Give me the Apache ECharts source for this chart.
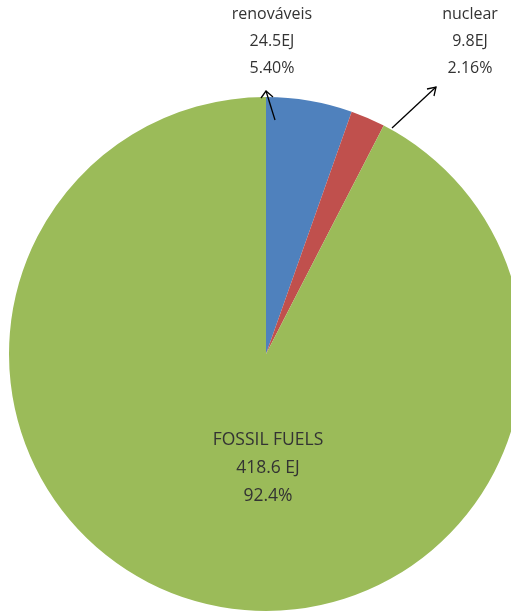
<!DOCTYPE html>
<html>
<head>
<meta charset="utf-8">
<script src="https://cdn.jsdelivr.net/npm/echarts@6/dist/echarts.min.js"></script>
<style>
  html, body { margin: 0; padding: 0; background: #fff; }
  #chart { width: 511px; height: 615px; }
</style>
</head>
<body>
<div id="chart"></div>
<script>
// dados (EJ)
var categories = ['renováveis', 'nuclear', 'FOSSIL FUELS']
var energyEJ = [24.5, 9.8, 418.6]
var energyText = ['24.5EJ', '9.8EJ', '418.6 EJ']
var shareText = ['5.40%', '2.16%', '92.4%']
var colors = ['#4f81bd', '#c0504d', '#9bbb59']

// posição dos rótulos
var labelPos = [
  { x: 272, y: 1 },
  { x: 470, y: 1 },
  { x: 268, y: 426 }
]

var chart = echarts.init(document.getElementById('chart'))

var option = {
  backgroundColor: '#fff',
  animation: false,
  series: [{
    type: 'pie',
    center: [266, 354],
    radius: 257,
    startAngle: 90,
    clockwise: true,
    label: {
      show: true,
      position: 'outside',
      fontFamily: 'Open Sans',
      fontSize: 16,
      lineHeight: 27,
      color: '#333',
      align: 'center',
      overflow: 'none',
      formatter: function (p) {
        return categories[p.dataIndex] + '\n' + energyText[p.dataIndex] + '\n' + shareText[p.dataIndex]
      }
    },
    labelLine: { show: false },
    labelLayout: function (params) {
      var pos = labelPos[params.dataIndex]
      return { x: pos.x, y: pos.y, align: 'center', verticalAlign: 'top' }
    },
    itemStyle: { borderWidth: 0 },
    emphasis: { disabled: true },
    data: categories.map(function (name, i) {
      var item = { name: name, value: energyEJ[i], itemStyle: { color: colors[i] } }
      if (i === 2) item.label = { fontSize: 17.5, lineHeight: 28 }
      return item
    })
  }],
  graphic: [
    // setas (por cima das fatias)
    { type: 'line', z: 100, shape: { x1: 275, y1: 120, x2: 266, y2: 91 }, style: { stroke: '#000', lineWidth: 1.3 } },
    { type: 'polyline', z: 100, shape: { points: [[261, 98], [266, 91], [273, 97]] }, style: { stroke: '#000', lineWidth: 1.3, fill: null } },
    { type: 'line', z: 100, shape: { x1: 392, y1: 128, x2: 436, y2: 87 }, style: { stroke: '#000', lineWidth: 1.3 } },
    { type: 'polyline', z: 100, shape: { points: [[427, 89], [436, 87], [434, 96]] }, style: { stroke: '#000', lineWidth: 1.3, fill: null } }
  ]
}

chart.setOption(option)
</script>
</body>
</html>
